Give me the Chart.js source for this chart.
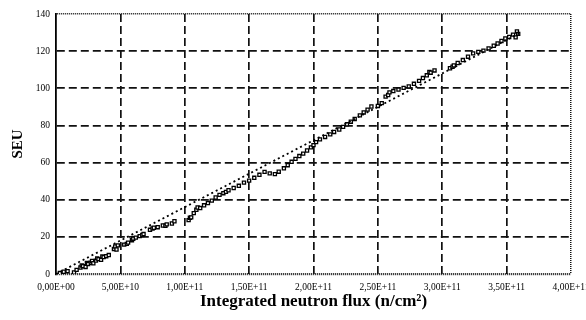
<!DOCTYPE html>
<html lang="en">
<head>
    <meta charset="UTF-8">
    <title>SEU vs integrated neutron flux</title>
    <script src="https://cdn.jsdelivr.net/npm/chart.js"></script>
    <style>
        body { margin: 0; background: #fff; }
        canvas { display: block; }
    </style>
</head>
<body>
    <canvas id="chartCanvas" width="586" height="320"></canvas>

    <script>
        // flux in units of 1E+10 n/cm2
        var fluxValues = [
            0.3, 0.6, 0.9, 1.4, 1.6, 1.9, 2.0, 2.1, 2.3, 2.4, 2.5, 2.7, 2.8, 2.9, 3.1, 3.2, 3.3, 3.5, 3.6, 3.7, 3.9, 4.1,
            4.5, 4.6, 4.7, 4.8, 5.3, 5.5, 5.6, 5.9, 6.0, 6.2, 6.5, 6.7, 6.8, 7.3, 7.5, 7.6, 7.9, 8.3, 8.5, 8.6, 9.0, 9.2,
            10.3, 10.4, 10.5, 10.7, 10.9, 11.0, 11.2, 11.5, 11.8, 12.1, 12.4, 12.7, 13.0, 13.2, 13.4, 13.8, 14.2, 14.6,
            15.0, 15.4, 15.8, 16.2, 16.6, 17.0, 17.3, 17.7, 18.0, 18.3, 18.6, 18.9, 19.2, 19.5, 19.8, 20.0, 20.2,
            20.5, 20.9, 21.3, 21.6, 22.0, 22.3, 22.6, 22.9, 23.2, 23.6, 23.9, 24.2, 24.5, 25.0, 25.3, 25.6, 25.8, 25.9,
            26.2, 26.6, 27.0, 27.4, 27.8, 28.2, 28.5, 28.8, 29.0, 29.1, 29.4,
            30.6, 30.8, 30.9, 31.2, 31.6, 32.0, 32.4, 32.8, 33.2, 33.6, 34.0, 34.3, 34.6, 34.9, 35.2, 35.5, 35.7, 35.8, 35.9
        ];
        var seuValues = [
            0.5, 1.2, 1.5, 0.8, 2.2, 3.5, 4.6, 4.2, 3.8, 5.9, 5.4, 6.1, 7.0, 5.8, 7.2, 8.4, 8.0, 7.6, 9.5, 9.1, 9.6, 10.2,
            13.5, 14.8, 13.2, 15.4, 15.8, 16.2, 16.9, 18.2, 19.0, 19.6, 20.4, 21.0, 21.5, 23.8, 24.5, 24.9, 25.2, 26.1, 26.0, 26.7, 27.2, 28.4,
            29.0, 30.3, 30.5, 32.8, 34.6, 35.8, 35.5, 37.0, 38.2, 39.5, 41.2, 42.6, 43.5, 44.2, 45.1, 46.3, 47.5, 49.2,
            50.3, 51.8, 53.4, 55.0, 54.2, 53.8, 55.1, 56.9, 58.6, 60.4, 62.0, 63.5, 64.8, 66.5, 68.2, 69.4, 71.0,
            72.5, 73.8, 75.2, 76.5, 77.8, 79.2, 80.6, 82.0, 83.5, 85.4, 87.0, 88.5, 90.2, 90.5, 92.0, 95.5, 96.4, 97.8,
            98.5, 99.3, 100.2, 101.0, 102.4, 104.0, 105.5, 107.0, 108.8, 108.4, 109.6,
            110.8, 111.6, 112.3, 113.6, 115.2, 117.0, 118.8, 119.6, 120.3, 121.5, 122.9, 124.1, 125.5, 126.8, 127.6, 128.9, 127.4, 130.6, 129.3
        ];

        // dotted trend line, read at its two ends
        var trendFlux = [0, 36];
        var trendSeu = [0, 129.6];

        var xTickLabels = ['0,00E+00', '5,00E+10', '1,00E+11', '1,50E+11', '2,00E+11', '2,50E+11', '3,00E+11', '3,50E+11', '4,00E+11'];
        var xMax = 40, xStep = 5;
        var yMax = 140, yStep = 20;

        var points = fluxValues.map(function (x, i) { return { x: x, y: seuValues[i] }; });
        var trend = trendFlux.map(function (x, i) { return { x: x, y: trendSeu[i] }; });

        var serif = "'Liberation Serif', 'DejaVu Serif', serif";

        function edgeDash(ctx, last) {
            if (ctx.index === 0 || ctx.index === last) return [1, 1];
            return [8, 4];
        }

        new Chart(document.getElementById('chartCanvas'), {
            type: 'scatter',
            data: {
                datasets: [{
                    type: 'line',
                    data: trend,
                    borderColor: '#000',
                    borderWidth: 1.8,
                    borderDash: [2, 3],
                    pointRadius: 0,
                    fill: false,
                    order: 0
                }, {
                    data: points,
                    pointStyle: 'rect',
                    pointRadius: 2.2,
                    borderWidth: 1.3,
                    borderColor: '#000',
                    backgroundColor: '#fff',
                    order: 1
                }]
            },
            options: {
                responsive: false,
                animation: false,
                layout: { padding: { top: 14, right: 15, left: 0, bottom: 0 } },
                plugins: { legend: { display: false }, tooltip: { enabled: false } },
                scales: {
                    x: {
                        type: 'linear',
                        min: 0, max: xMax,
                        afterFit: function (s) { s.height = 46; s.paddingLeft = 0; s.paddingRight = 0; },
                        ticks: {
                            stepSize: xStep,
                            padding: 8,
                            maxRotation: 0,
                            autoSkip: false,
                            color: '#000',
                            font: { family: serif, size: 9.5 },
                            callback: function (v, i) { return xTickLabels[i]; }
                        },
                        grid: {
                            drawTicks: false,
                            color: function (ctx) { return ctx.index === 0 ? 'rgba(0,0,0,0)' : '#111'; },
                            lineWidth: function (ctx) { return ctx.index === 8 ? 1.5 : 1.7; }
                        },
                        border: {
                            display: false,
                            dash: function (ctx) { return edgeDash(ctx, 8); }
                        },
                        title: {
                            display: true,
                            text: 'Integrated neutron flux (n/cm²)',
                            color: '#000',
                            font: { family: serif, size: 17, weight: 'bold' },
                            padding: { top: 0, bottom: 8 }
                        }
                    },
                    y: {
                        min: 0, max: yMax,
                        afterFit: function (s) { s.width = 56; s.paddingTop = 0; s.paddingBottom = 0; },
                        ticks: {
                            stepSize: yStep,
                            padding: 6,
                            color: '#000',
                            font: { family: serif, size: 9.5 }
                        },
                        grid: {
                            drawTicks: false,
                            color: '#111',
                            lineWidth: function (ctx) { return ctx.index === 0 ? 2.2 : (ctx.index === 7 ? 1.5 : 1.7); }
                        },
                        border: {
                            display: true,
                            color: '#000',
                            width: 1.8,
                            dash: function (ctx) { return edgeDash(ctx, 7); }
                        },
                        title: {
                            display: true,
                            text: 'SEU',
                            color: '#000',
                            font: { family: serif, size: 15, weight: 'bold' },
                            padding: { top: 9, bottom: 0 }
                        }
                    }
                }
            }
        });
    </script>
</body>
</html>
